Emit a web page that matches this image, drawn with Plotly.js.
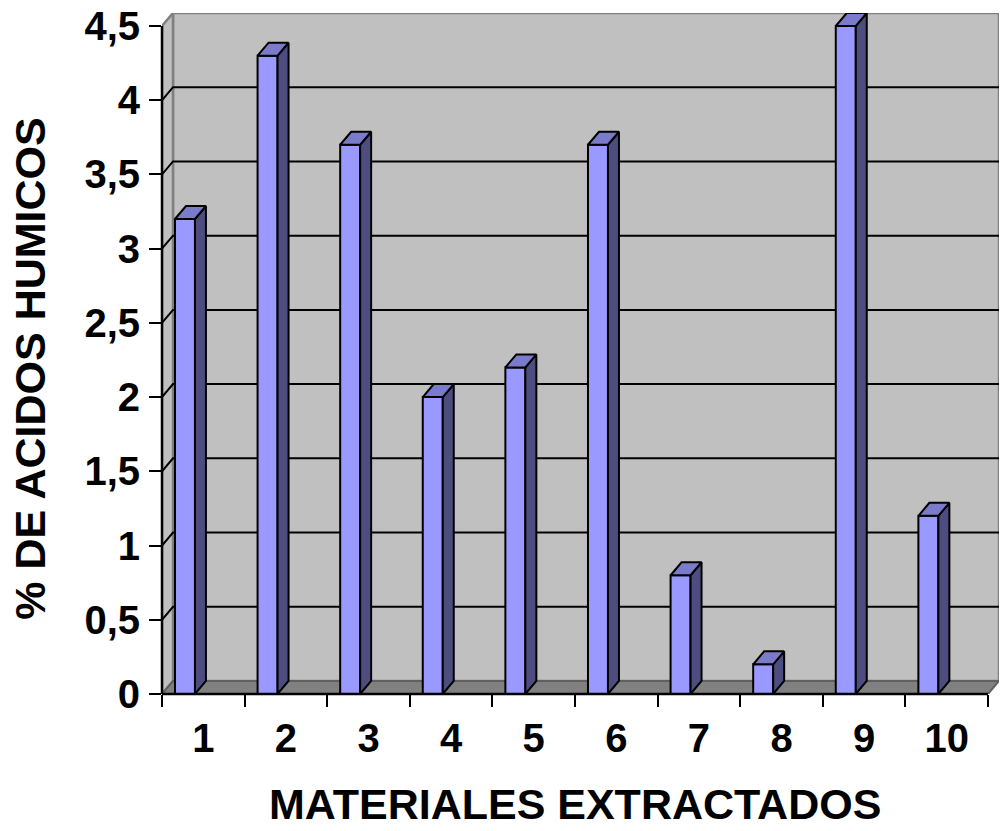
<!DOCTYPE html>
<html>
<head>
<meta charset="utf-8">
<script src="https://cdn.plot.ly/plotly-3.0.1.min.js"></script>
<style>html,body{margin:0;padding:0;background:#fff;}#chart{width:1003px;height:831px;}</style>
</head>
<body>
<div id="chart"></div>
<script>
// ---- data ----
const categories = ['1', '2', '3', '4', '5', '6', '7', '8', '9', '10'];
const positions = [1, 2, 3, 4, 5, 6, 7, 8, 9, 10];
const values = [3.2, 4.3, 3.7, 2.0, 2.2, 3.7, 0.8, 0.2, 4.5, 1.2];
const yTickVals = [0, 0.5, 1, 1.5, 2, 2.5, 3, 3.5, 4, 4.5];
const yTickText = ['0', '0,5', '1', '1,5', '2', '2,5', '3', '3,5', '4', '4,5'];
const gridVals = [0.5, 1, 1.5, 2, 2.5, 3, 3.5, 4];
const xTitle = 'MATERIALES EXTRACTADOS';
const yTitle = '% DE ACIDOS HUMICOS';

// ---- styling / geometry ----
const DX = 0.133;      // depth offset in x units
const DY = 0.0876;     // depth offset in y units
const XMIN = 0.5, XMAX = 10.5, YMAX = 4.5;
const BAR_OFFSET = -0.343, BAR_WIDTH = 0.242;
const FONT = {family: '"Liberation Sans", Arial, sans-serif', size: 40, color: '#000', weight: 'bold'};
const TITLE_FONT = {family: '"Liberation Sans", Arial, sans-serif', size: 43, color: '#000', weight: 'bold'};

// 3D faces for bars
const topX = [], topY = [], sideX = [], sideY = [];
positions.forEach((p, i) => {
  const v = values[i];
  const xl = p + BAR_OFFSET, xr = xl + BAR_WIDTH;
  topX.push(xl, xl + DX, xr + DX, xr, xl, null);
  topY.push(v, v + DY, v + DY, v, v, null);
  sideX.push(xr, xr + DX, xr + DX, xr, xr, null);
  sideY.push(0, DY, v + DY, v, 0, null);
});

const traces = [
  {
    type: 'bar', x: positions, y: values, width: BAR_WIDTH, offset: BAR_OFFSET,
    marker: {color: '#9999ff', line: {color: '#000', width: 2}},
    hoverinfo: 'x+y', showlegend: false
  },
  {
    type: 'scatter', mode: 'lines', x: sideX, y: sideY, fill: 'toself',
    fillcolor: '#4d4d80', line: {color: '#000', width: 2}, hoverinfo: 'skip', showlegend: false
  },
  {
    type: 'scatter', mode: 'lines', x: topX, y: topY, fill: 'toself',
    fillcolor: '#7b7bcc', line: {color: '#000', width: 2}, hoverinfo: 'skip', showlegend: false
  }
];

const shapes = [];
// back wall
shapes.push({type: 'rect', xref: 'x', yref: 'y', layer: 'below',
  x0: XMIN + DX, x1: XMAX + DX, y0: DY, y1: YMAX + DY,
  fillcolor: '#c0c0c0', line: {color: '#808080', width: 2.5}});
// left side wall
shapes.push({type: 'path', xref: 'x', yref: 'y', layer: 'below',
  path: `M${XMIN},0 L${XMIN},${YMAX} L${XMIN + DX},${YMAX + DY} L${XMIN + DX},${DY} Z`,
  fillcolor: '#c0c0c0', line: {color: '#808080', width: 2.5}});
// floor
shapes.push({type: 'path', xref: 'x', yref: 'y', layer: 'below',
  path: `M${XMIN},0 L${XMAX},0 L${XMAX + DX},${DY} L${XMIN + DX},${DY} Z`,
  fillcolor: '#808080', line: {color: '#606060', width: 2}});
// gridlines
gridVals.forEach(g => {
  shapes.push({type: 'path', xref: 'x', yref: 'y', layer: 'below',
    path: `M${XMIN},${g} L${XMIN + DX},${g + DY} L${XMAX + DX},${g + DY}`,
    line: {color: '#000', width: 2}});
});
// axis lines
shapes.push({type: 'line', xref: 'paper', yref: 'y', layer: 'above',
  x0: 0, x1: 0, y0: 0, y1: YMAX, line: {color: '#000', width: 2.5}});
shapes.push({type: 'line', xref: 'x', yref: 'paper', layer: 'above',
  x0: XMIN, x1: XMAX, y0: 0, y1: 0, line: {color: '#000', width: 2.5}});

const layout = {
  width: 1003, height: 831,
  margin: {l: 162, r: 4, t: 13, b: 137, pad: 0},
  paper_bgcolor: '#ffffff', plot_bgcolor: 'rgba(0,0,0,0)',
  showlegend: false,
  xaxis: {
    range: [XMIN, XMAX + DX], tickvals: positions, ticktext: categories,
    ticks: '', showgrid: false, zeroline: false, showline: false,
    tickfont: FONT, ticklabelstandoff: 17,
    minor: {tick0: 0.5, dtick: 1, ticks: 'outside', ticklen: 12, tickwidth: 2, tickcolor: '#000', showgrid: false}
  },
  yaxis: {
    range: [0, YMAX + DY], tickvals: yTickVals, ticktext: yTickText,
    ticks: 'outside', ticklen: 12, tickwidth: 2, tickcolor: '#000',
    showgrid: false, zeroline: false, showline: false,
    tickfont: FONT, ticklabelstandoff: 1
  },
  shapes: shapes,
  annotations: [
    {text: xTitle, xref: 'paper', yref: 'paper', x: 0.4934, y: -0.162,
     xanchor: 'center', yanchor: 'middle', showarrow: false, font: TITLE_FONT},
    {text: yTitle, xref: 'paper', yref: 'paper', x: -0.158, y: 0.4787, textangle: -90,
     xanchor: 'center', yanchor: 'middle', showarrow: false, font: TITLE_FONT}
  ]
};

Plotly.newPlot('chart', traces, layout, {displayModeBar: false, staticPlot: true});
</script>
</body>
</html>
